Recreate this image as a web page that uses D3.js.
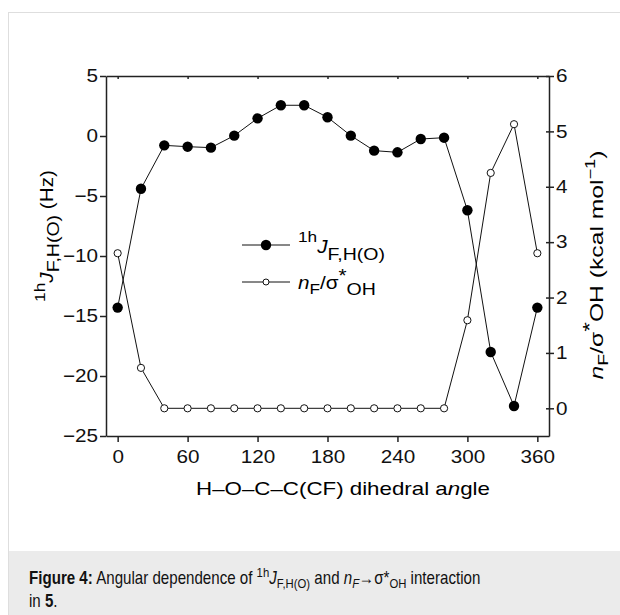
<!DOCTYPE html>
<html>
<head>
<meta charset="utf-8">
<script src="https://cdn.jsdelivr.net/npm/d3@7"></script>
<style>
  body { margin: 0; background: #fff; }
  svg { display: block; font-family: Arial, "Liberation Sans", sans-serif; }
  .axis path, .axis line { stroke: #222; stroke-width: 1.5; }
  .axis text { font-size: 18px; fill: #111; font-family: Arial, "Liberation Sans", sans-serif; }
</style>
</head>
<body>
<div id="chart"></div>
<script>
// data
var angles = [0, 20, 40, 60, 80, 100, 120, 140, 160, 180, 200, 220, 240, 260, 280, 300, 320, 340, 360]
var couplingJ = [-14.3, -4.4, -0.78, -0.89, -0.97, 0.03, 1.47, 2.56, 2.56, 1.56, 0.03, -1.22, -1.36, -0.25, -0.14, -6.19, -18.0, -22.5, -14.3]
var interaction = [2.8, 0.73, 0, 0, 0, 0, 0, 0, 0, 0, 0, 0, 0, 0, 0, 1.59, 4.25, 5.13, 2.8]
var xTicks = [0, 60, 120, 180, 240, 300, 360]
var leftTicks = [5, 0, -5, -10, -15, -20, -25]
var rightTicks = [0, 1, 2, 3, 4, 5, 6]

var width = 620, height = 615
var svg = d3.select('#chart').append('svg')
  .attr('width', width)
  .attr('height', height)

// the figure's lettering is a touch wider than plain Arial
function stretchTicks(g, sx) {
  g.selectAll('.tick text').each(function () {
    var x = +this.getAttribute('x') || 0
    d3.select(this).attr('x', x / sx).attr('transform', 'scale(' + sx + ',1)')
  })
}

// card frame + caption band
svg.append('rect')
  .attr('x', 8.5).attr('y', 12.5)
  .attr('width', 640).attr('height', 620)
  .attr('fill', '#fff').attr('stroke', '#dedede')
svg.append('rect')
  .attr('x', 9).attr('y', 551)
  .attr('width', 611).attr('height', 64)
  .attr('fill', '#ebebeb')

var plot = { left: 106, right: 549, top: 76, bottom: 436 }

var xScale = d3.scaleLinear().domain([-10, 370]).range([plot.left, plot.right])
var yLeft = d3.scaleLinear().domain([-25, 5]).range([plot.bottom, plot.top])
var yRight = d3.scaleLinear().domain([-0.5, 6]).range([plot.bottom, plot.top])

var fmt = function (d) { return d < 0 ? '\u2212' + Math.abs(d) : d }

// axes
svg.append('g')
  .attr('class', 'axis')
  .attr('transform', 'translate(0,' + plot.bottom + ')')
  .call(d3.axisBottom(xScale).tickValues(xTicks).tickSize(6).tickSizeOuter(0).tickPadding(8))
  .call(stretchTicks, 1.15)

svg.append('g')
  .attr('class', 'axis')
  .attr('transform', 'translate(0,' + plot.top + ')')
  .call(d3.axisTop(xScale).tickValues(xTicks).tickSize(-3).tickSizeOuter(0).tickFormat(''))

svg.append('g')
  .attr('class', 'axis')
  .attr('transform', 'translate(' + plot.left + ',0)')
  .call(d3.axisLeft(yLeft).tickValues(leftTicks).tickSize(6).tickSizeOuter(0).tickPadding(2).tickFormat(fmt))
  .call(stretchTicks, 1.15)

var rAxis = svg.append('g')
  .attr('class', 'axis')
  .attr('transform', 'translate(' + plot.right + ',0)')
  .call(d3.axisRight(yRight).tickValues(rightTicks).tickSize(5).tickSizeOuter(0).tickPadding(2).tickFormat(d3.format('d')))
  .call(stretchTicks, 1.15)
rAxis.selectAll('.tick line').attr('x1', -3)

// lines
var lineJ = d3.line()
  .x(function (d, i) { return xScale(angles[i]) })
  .y(function (d) { return yLeft(d) })
var lineN = d3.line()
  .x(function (d, i) { return xScale(angles[i]) })
  .y(function (d) { return yRight(d) })

svg.append('path').datum(couplingJ)
  .attr('d', lineJ).attr('fill', 'none').attr('stroke', '#111').attr('stroke-width', 1)
svg.append('path').datum(interaction)
  .attr('d', lineN).attr('fill', 'none').attr('stroke', '#111').attr('stroke-width', 1)

svg.append('g').selectAll('circle')
  .data(interaction)
  .enter().append('circle')
  .attr('cx', function (d, i) { return xScale(angles[i]) })
  .attr('cy', function (d) { return yRight(d) })
  .attr('r', 3.6)
  .attr('fill', '#fff').attr('stroke', '#111').attr('stroke-width', 1)

svg.append('g').selectAll('circle')
  .data(couplingJ)
  .enter().append('circle')
  .attr('cx', function (d, i) { return xScale(angles[i]) })
  .attr('cy', function (d) { return yLeft(d) })
  .attr('r', 5.2)
  .attr('fill', '#000')

// legend
var legend = svg.append('g').attr('transform', 'translate(242,245)')
legend.append('line').attr('x1', 0).attr('x2', 48).attr('y1', 0).attr('y2', 0).attr('stroke', '#111')
legend.append('circle').attr('cx', 24).attr('r', 5.2).attr('fill', '#000')
var t1 = legend.append('text').attr('transform', 'translate(56,8) scale(1.15,1)').style('font-size', '18px')
t1.append('tspan').attr('dy', -11).style('font-size', '15px').text('1h')
t1.append('tspan').attr('dy', 11).style('font-style', 'italic').text('J')
t1.append('tspan').attr('dy', 7).style('font-size', '17px').text('F,H(O)')

legend.append('line').attr('x1', 0).attr('x2', 48).attr('y1', 37).attr('y2', 37).attr('stroke', '#111')
legend.append('circle').attr('cx', 24).attr('cy', 37).attr('r', 3).attr('fill', '#fff').attr('stroke', '#111')
var t2 = legend.append('text').attr('transform', 'translate(56,44) scale(1.15,1)').style('font-size', '18px')
t2.append('tspan').style('font-style', 'italic').text('n')
t2.append('tspan').attr('dy', 5).style('font-size', '15px').text('F')
t2.append('tspan').attr('dy', -5).text('/\u03c3')
t2.append('tspan').attr('dy', -7).text('*')
t2.append('tspan').attr('dy', 13).style('font-size', '17px').text('OH')

// axis titles
svg.append('text')
  .attr('transform', 'translate(343,495) scale(1.24,1)')
  .attr('text-anchor', 'middle')
  .style('font-size', '18px')
  .html('H\u2013O\u2013C\u2013C(CF) dihedral a<tspan font-style="italic">n</tspan>gle')

var ly = svg.append('text')
  .attr('transform', 'translate(53,236) rotate(-90) scale(1.15,1)')
  .attr('text-anchor', 'middle')
  .style('font-size', '18px')
ly.append('tspan').attr('dy', -8).style('font-size', '15px').text('1h')
ly.append('tspan').attr('dy', 8).style('font-style', 'italic').text('J')
ly.append('tspan').attr('dy', 6).style('font-size', '17px').text('F,H(O)')
ly.append('tspan').attr('dy', -6).text(' (Hz)')

var ry = svg.append('text')
  .attr('transform', 'translate(603,265) rotate(-90) scale(1.3,1)')
  .attr('text-anchor', 'middle')
  .style('font-size', '19px')
ry.append('tspan').style('font-style', 'italic').text('n')
ry.append('tspan').attr('dy', 5).style('font-size', '15px').text('F')
ry.append('tspan').attr('dy', -5).text('/\u03c3')
ry.append('tspan').attr('dy', -7).text('*')
ry.append('tspan').attr('dy', 7).text('OH (kcal mol')
ry.append('tspan').attr('dy', -8).style('font-size', '14px').text('\u22121')
ry.append('tspan').attr('dy', 8).text(')')

// caption
var cap = svg.append('g').style('font-size', '18px').attr('fill', '#111')
var c1 = cap.append('text').attr('transform', 'translate(29,584) scale(0.84,1)')
c1.append('tspan').style('font-weight', 'bold').text('Figure 4:')
c1.append('tspan').text(' Angular dependence of ')
c1.append('tspan').attr('dy', -7).style('font-size', '13.5px').text('1h')
c1.append('tspan').attr('dy', 7).style('font-style', 'italic').text('J')
c1.append('tspan').attr('dy', 4).style('font-size', '13.5px').text('F,H(O)')
c1.append('tspan').attr('dy', -4).text(' and ')
c1.append('tspan').style('font-style', 'italic').text('n')
c1.append('tspan').attr('dy', 4).style('font-size', '13.5px').style('font-style', 'italic').text('F')
c1.append('tspan').attr('dy', -4).text('\u2192\u03c3*')
c1.append('tspan').attr('dy', 4).style('font-size', '13.5px').text('OH')
c1.append('tspan').attr('dy', -4).text(' interaction')
var c2 = cap.append('text').attr('transform', 'translate(29,607) scale(0.84,1)')
c2.append('tspan').text('in ')
c2.append('tspan').style('font-weight', 'bold').text('5')
c2.append('tspan').text('.')
</script>
</body>
</html>
